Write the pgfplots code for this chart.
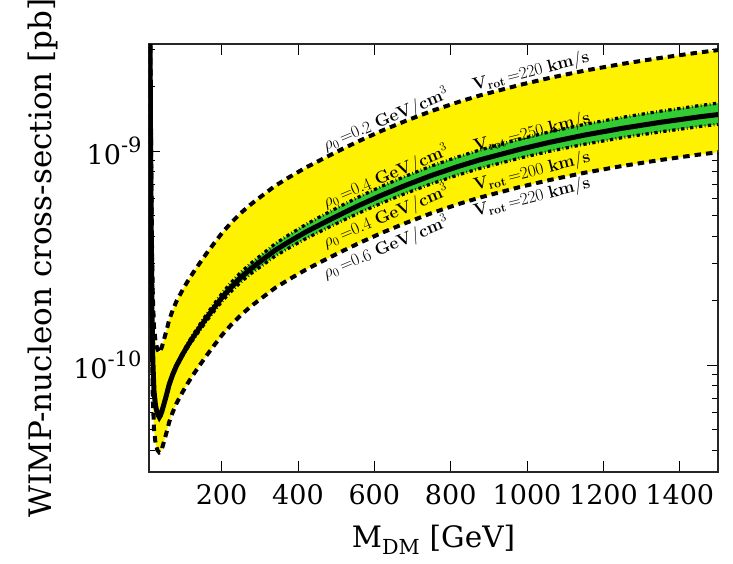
\documentclass[border=0pt]{standalone}
\usepackage[no-math]{fontspec}
\setmainfont{DejaVu Serif}
\usepackage{pgfplots}
\usepackage{pgfplotstable}
\pgfplotsset{compat=1.18}

\pgfplotstableread{
M      c          top        bot        up          lo
10     3000e-11   6000e-11   2000e-11   3000e-11    3000e-11
12     600e-11    1200e-11   400e-11    600e-11     600e-11
14     120e-11    240e-11    80e-11     120e-11     120e-11
16     39.8e-11   79.6e-11   26.53e-11  39.8e-11    39.8e-11
18     17.0e-11   34.0e-11   11.33e-11  17.0e-11    17.0e-11
20     10.5e-11   21.0e-11   7.0e-11    10.5e-11    10.5e-11
23     7.59e-11   15.18e-11  5.06e-11   7.59e-11    7.59e-11
27     6.46e-11   12.92e-11  4.307e-11  6.46e-11    6.46e-11
32     5.92e-11   11.84e-11  4.0e-11    5.92e-11    5.92e-11
37     5.70e-11   11.40e-11  3.90e-11   5.70e-11    5.70e-11
40     5.82e-11   11.64e-11  3.92e-11   5.82e-11    5.82e-11
44     6.10e-11   12.20e-11  4.07e-11   6.106e-11   6.094e-11
48     6.46e-11   12.92e-11  4.31e-11   6.473e-11   6.447e-11
55     7.16e-11   14.32e-11  4.773e-11  7.189e-11   7.131e-11
63     8.13e-11   16.26e-11  5.42e-11   8.179e-11   8.081e-11
72     9.02e-11   18.04e-11  6.013e-11  9.092e-11   8.948e-11
82     9.93e-11   19.86e-11  6.62e-11   10.049e-11  9.821e-11
98     11.22e-11  22.44e-11  7.48e-11   11.422e-11  11.029e-11
110    12.21e-11  24.42e-11  8.14e-11   12.479e-11  11.954e-11
125    13.45e-11  26.90e-11  8.967e-11  13.813e-11  13.114e-11
141.5  14.85e-11  29.70e-11  9.90e-11   15.325e-11  14.419e-11
160    16.55e-11  33.10e-11  11.03e-11  17.162e-11  16.004e-11
180    18.48e-11  36.96e-11  12.32e-11  19.238e-11  17.796e-11
202.5  20.83e-11  41.66e-11  13.89e-11  21.788e-11  19.976e-11
225    23.10e-11  46.20e-11  15.40e-11  24.278e-11  22.061e-11
250    25.62e-11  51.24e-11  17.08e-11  27.055e-11  24.365e-11
275    28.02e-11  56.04e-11  18.68e-11  29.729e-11  26.585e-11
290    29.40e-11  58.80e-11  19.60e-11  31.194e-11  27.783e-11
340    34.36e-11  68.72e-11  22.91e-11  36.834e-11  32.264e-11
377    37.72e-11  75.44e-11  25.15e-11  40.662e-11  35.268e-11
420    41.78e-11  83.56e-11  27.85e-11  45.290e-11  38.897e-11
465    45.96e-11  91.92e-11  30.64e-11  50.050e-11  42.651e-11
510    50.44e-11  100.88e-11 33.63e-11  55.131e-11  46.657e-11
561    55.80e-11  111.60e-11 37.20e-11  61.213e-11  51.448e-11
620    62.23e-11  124.46e-11 41.49e-11  68.515e-11  57.189e-11
680    68.90e-11  137.80e-11 45.93e-11  76.066e-11  63.181e-11
750    76.91e-11  153.82e-11 51.27e-11  85.139e-11  70.373e-11
820    84.72e-11  169.44e-11 56.48e-11  94.039e-11  77.349e-11
875    90.78e-11  181.56e-11 60.52e-11  100.947e-11 82.791e-11
980    101.72e-11 203.44e-11 67.81e-11  113.52e-11  92.565e-11
1060   109.90e-11 219.80e-11 73.27e-11  122.98e-11  99.789e-11
1150   118.67e-11 237.34e-11 79.11e-11  133.15e-11  107.52e-11
1250   127.76e-11 255.52e-11 85.17e-11  143.73e-11  115.50e-11
1350   136.26e-11 272.52e-11 90.84e-11  153.52e-11  122.91e-11
1450   144.33e-11 288.66e-11 96.22e-11  162.95e-11  130.04e-11
1500   148.03e-11 296.06e-11 98.69e-11  167.27e-11  133.23e-11
}\data

% outline of the yellow band: upper edge left to right, lower edge right to left
\pgfplotstableread{
M      y
10     6000e-11
12     1200e-11
14     240e-11
16     79.6e-11
18     34.0e-11
20     21.0e-11
23     15.18e-11
27     12.92e-11
32     11.84e-11
37     11.40e-11
40     11.64e-11
44     12.20e-11
48     12.92e-11
55     14.32e-11
63     16.26e-11
72     18.04e-11
82     19.86e-11
98     22.44e-11
110    24.42e-11
125    26.90e-11
141.5  29.70e-11
160    33.10e-11
180    36.96e-11
202.5  41.66e-11
225    46.20e-11
250    51.24e-11
275    56.04e-11
290    58.80e-11
340    68.72e-11
377    75.44e-11
420    83.56e-11
465    91.92e-11
510    100.88e-11
561    111.60e-11
620    124.46e-11
680    137.80e-11
750    153.82e-11
820    169.44e-11
875    181.56e-11
980    203.44e-11
1060   219.80e-11
1150   237.34e-11
1250   255.52e-11
1350   272.52e-11
1450   288.66e-11
1500   296.06e-11
1500   98.69e-11
1450   96.22e-11
1350   90.84e-11
1250   85.17e-11
1150   79.11e-11
1060   73.27e-11
980    67.81e-11
875    60.52e-11
820    56.48e-11
750    51.27e-11
680    45.93e-11
620    41.49e-11
561    37.20e-11
510    33.63e-11
465    30.64e-11
420    27.85e-11
377    25.15e-11
340    22.91e-11
290    19.60e-11
275    18.68e-11
250    17.08e-11
225    15.40e-11
202.5  13.89e-11
180    12.32e-11
160    11.03e-11
141.5  9.90e-11
125    8.967e-11
110    8.14e-11
98     7.48e-11
82     6.62e-11
72     6.013e-11
63     5.42e-11
55     4.773e-11
48     4.31e-11
44     4.07e-11
40     3.92e-11
37     3.90e-11
32     4.0e-11
27     4.307e-11
23     5.06e-11
20     7.0e-11
18     11.33e-11
16     26.53e-11
14     80e-11
12     400e-11
10     2000e-11
}\yband

% outline of the green band
\pgfplotstableread{
M      y
40     5.82e-11
44     6.106e-11
48     6.473e-11
55     7.189e-11
63     8.179e-11
72     9.092e-11
82     10.049e-11
98     11.422e-11
110    12.479e-11
125    13.813e-11
141.5  15.325e-11
160    17.162e-11
180    19.238e-11
202.5  21.788e-11
225    24.278e-11
250    27.055e-11
275    29.729e-11
290    31.194e-11
340    36.834e-11
377    40.662e-11
420    45.290e-11
465    50.050e-11
510    55.131e-11
561    61.213e-11
620    68.515e-11
680    76.066e-11
750    85.139e-11
820    94.039e-11
875    100.947e-11
980    113.52e-11
1060   122.98e-11
1150   133.15e-11
1250   143.73e-11
1350   153.52e-11
1450   162.95e-11
1500   167.27e-11
1500   133.23e-11
1450   130.04e-11
1350   122.91e-11
1250   115.50e-11
1150   107.52e-11
1060   99.789e-11
980    92.565e-11
875    82.791e-11
820    77.349e-11
750    70.373e-11
680    63.181e-11
620    57.189e-11
561    51.448e-11
510    46.657e-11
465    42.651e-11
420    38.897e-11
377    35.268e-11
340    32.264e-11
290    27.783e-11
275    26.585e-11
250    24.365e-11
225    22.061e-11
202.5  19.976e-11
180    17.796e-11
160    16.004e-11
141.5  14.419e-11
125    13.114e-11
110    11.954e-11
98     11.029e-11
82     9.821e-11
72     8.948e-11
63     8.081e-11
55     7.131e-11
48     6.447e-11
44     6.094e-11
40     5.82e-11
}\gband

\definecolor{bandgreen}{RGB}{50,205,50}
\newcommand{\ytl}[1]{\fontsize{27}{30}\selectfont 10\raisebox{0.42em}{\fontsize{21}{22}\selectfont #1}}

\begin{document}
\begin{tikzpicture}
\path[use as bounding box] (-149pt,-92pt) rectangle (584pt,472pt);
\begin{axis}[
  scale only axis, width=569pt, height=428pt,
  xmin=10, xmax=1500,
  ymode=log, ymin=3.1623e-11, ymax=3.1623e-9,
  xtick={200,400,...,1400},
  ytick={1e-10,1e-9},
  yticklabels={{\ytl{-10}},{\ytl{-9}}},
  minor ytick={4e-11,5e-11,6e-11,7e-11,8e-11,9e-11,2e-10,3e-10,4e-10,5e-10,6e-10,7e-10,8e-10,9e-10,2e-9,3e-9},
  tick align=inside,
  major tick length=11pt, minor tick length=6pt,
  tick style={line width=0.8pt, black},
  axis line style={line width=1.2pt, black!85},
  /pgf/number format/assume math mode=true,
  /pgf/number format/1000 sep={},
  ticklabel style={font=\fontsize{27}{30}\selectfont},
  xticklabel style={yshift=-9pt},
  yticklabel style={font=\fontsize{27}{30}\selectfont, xshift=-4pt},
  xlabel={M\textsubscript{DM} [GeV]},
  ylabel={WIMP-nucleon cross-section [pb]},
  xlabel style={font=\fontsize{29.5}{33}\selectfont, at={(rel axis cs:0.5,-0.158)}, anchor=center},
  ylabel style={font=\fontsize{31}{34}\selectfont, at={(rel axis cs:-0.1863,0.5)}, anchor=center},
  clip=true,
]
\addplot[fill=yellow, draw=none] table[x=M,y=y]{\yband} -- cycle;
\addplot[fill=bandgreen, draw=none] table[x=M,y=y]{\gband} -- cycle;

\addplot[black, line width=4pt, dash pattern=on 6.5pt off 5pt] table[x=M,y=top]{\data};
\addplot[black, line width=4pt, dash pattern=on 6.5pt off 5pt] table[x=M,y=bot]{\data};
\addplot[black, line width=3.2pt, dash pattern=on 3.3pt off 2.5pt on 0.7pt off 2.5pt] table[x=M,y=up]{\data};
\addplot[black, line width=3.2pt, dash pattern=on 3.3pt off 2.5pt on 0.7pt off 2.5pt] table[x=M,y=lo]{\data};
\addplot[black, line width=5pt] table[x=M,y=c]{\data};

\node[rotate=23, font=\fontsize{16.5}{18}\selectfont, inner sep=0pt] at (rel axis cs:0.4165,0.8224) {$\rho_0\,{=}0.2\ \mathbf{GeV}/\mathbf{cm}^3$};
\node[rotate=14, font=\fontsize{16.5}{18}\selectfont, inner sep=0pt] at (rel axis cs:0.6714,0.9346) {$\mathbf{V}_{\mathbf{rot}}\,{=}220\ \mathbf{km}/\mathbf{s}$};
\node[rotate=23, font=\fontsize{16.5}{18}\selectfont, inner sep=0pt] at (rel axis cs:0.4165,0.6893) {$\rho_0\,{=}0.4\ \mathbf{GeV}/\mathbf{cm}^3$};
\node[rotate=14, font=\fontsize{16.5}{18}\selectfont, inner sep=0pt] at (rel axis cs:0.6731,0.7921) {$\mathbf{V}_{\mathbf{rot}}\,{=}250\ \mathbf{km}/\mathbf{s}$};
\node[rotate=23, font=\fontsize{16.5}{18}\selectfont, inner sep=0pt] at (rel axis cs:0.4165,0.5960) {$\rho_0\,{=}0.4\ \mathbf{GeV}/\mathbf{cm}^3$};
\node[rotate=14, font=\fontsize{16.5}{18}\selectfont, inner sep=0pt] at (rel axis cs:0.6731,0.7009) {$\mathbf{V}_{\mathbf{rot}}\,{=}200\ \mathbf{km}/\mathbf{s}$};
\node[rotate=23, font=\fontsize{16.5}{18}\selectfont, inner sep=0pt] at (rel axis cs:0.4165,0.5234) {$\rho_0\,{=}0.6\ \mathbf{GeV}/\mathbf{cm}^3$};
\node[rotate=14, font=\fontsize{16.5}{18}\selectfont, inner sep=0pt] at (rel axis cs:0.6731,0.6402) {$\mathbf{V}_{\mathbf{rot}}\,{=}220\ \mathbf{km}/\mathbf{s}$};
\end{axis}
\end{tikzpicture}
\end{document}
